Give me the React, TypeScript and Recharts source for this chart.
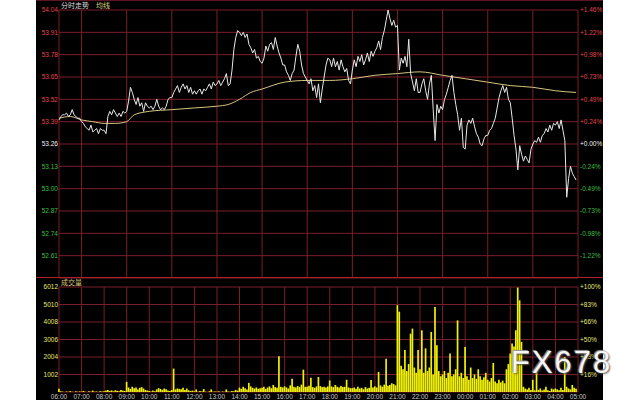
import { ComposedChart, Line, Bar, XAxis, YAxis, CartesianGrid } from "recharts";

// hour labels along the bottom, 06:00 .. 05:00 next day
const timeLabels = [
  "06:00", "07:00", "08:00", "09:00", "10:00", "11:00", "12:00", "13:00",
  "14:00", "15:00", "16:00", "17:00", "18:00", "19:00", "20:00", "21:00",
  "22:00", "23:00", "00:00", "01:00", "02:00", "03:00", "04:00", "05:00",
];

const priceTicks = [54.04, 53.91, 53.78, 53.65, 53.52, 53.39, 53.26, 53.13, 53.0, 52.87, 52.74, 52.61];
const pctLabels = ["+1.46%", "+1.22%", "+0.98%", "+0.73%", "+0.49%", "+0.24%", "+0.00%", "-0.24%", "-0.49%", "-0.73%", "-0.98%", "-1.22%"];
const volTicks = [1002, 2004, 3006, 4008, 5010, 6012];
const volPctLabels = ["+16%", "+33%", "+50%", "+66%", "+83%", "+100%"];

// one price every 5 minutes, one row per hour
const prices = [
  53.40, 53.42, 53.43, 53.43, 53.44, 53.42, 53.43, 53.46, 53.43, 53.42, 53.41, 53.41,
  53.39, 53.38, 53.36, 53.35, 53.34, 53.37, 53.33, 53.34, 53.35, 53.32, 53.35, 53.34,
  53.34, 53.32, 53.42, 53.45, 53.43, 53.46, 53.44, 53.42, 53.44, 53.42, 53.45, 53.44,
  53.45, 53.51, 53.59, 53.56, 53.52, 53.49, 53.53, 53.48, 53.50, 53.45, 53.50, 53.48,
  53.47, 53.48, 53.46, 53.48, 53.52, 53.48, 53.46, 53.47, 53.46, 53.48, 53.52, 53.53,
  53.53, 53.56, 53.58, 53.60, 53.56, 53.59, 53.61, 53.58, 53.60, 53.56, 53.59, 53.55,
  53.57, 53.55, 53.57, 53.58, 53.55, 53.58, 53.57, 53.59, 53.61, 53.58, 53.62, 53.60,
  53.61, 53.63, 53.60, 53.62, 53.64, 53.67, 53.60, 53.61, 53.69, 53.81, 53.88, 53.92,
  53.91, 53.89, 53.91, 53.88, 53.90, 53.84, 53.82, 53.79, 53.81, 53.76, 53.77, 53.74,
  53.73, 53.76, 53.83, 53.80, 53.84, 53.85, 53.81, 53.88, 53.83, 53.79, 53.76, 53.72,
  53.72, 53.68, 53.66, 53.63, 53.67, 53.69, 53.77, 53.84, 53.80, 53.72, 53.67, 53.65,
  53.63, 53.61, 53.64, 53.57, 53.60, 53.53, 53.61, 53.50, 53.58, 53.65, 53.72, 53.76,
  53.75, 53.71, 53.76, 53.71, 53.74, 53.69, 53.75, 53.71, 53.68, 53.70, 53.63, 53.61,
  53.69, 53.75, 53.71, 53.77, 53.74, 53.78, 53.72, 53.75, 53.79, 53.74, 53.80, 53.77,
  53.80, 53.82, 53.86, 53.81, 53.88, 53.92, 53.98, 54.04, 53.99, 53.95, 53.98, 53.94,
  53.95, 53.69, 53.76, 53.73, 53.77, 53.71, 53.87, 53.67, 53.62, 53.57, 53.64, 53.56,
  53.56, 53.61, 53.64, 53.57, 53.52, 53.61, 53.66, 53.46, 53.28, 53.49, 53.44, 53.48,
  53.46, 53.52, 53.55, 53.59, 53.63, 53.66, 53.56, 53.49, 53.43, 53.34, 53.41, 53.24,
  53.23, 53.37, 53.40, 53.38, 53.41, 53.36, 53.32, 53.30, 53.26, 53.25, 53.29, 53.31,
  53.31, 53.34, 53.35, 53.38, 53.41, 53.47, 53.53, 53.57, 53.60, 53.56, 53.59, 53.52,
  53.50, 53.41, 53.31, 53.23, 53.11, 53.25, 53.20, 53.16, 53.19, 53.17, 53.15, 53.23,
  53.26, 53.28, 53.27, 53.30, 53.27, 53.31, 53.32, 53.35, 53.33, 53.37, 53.34, 53.38,
  53.37, 53.39, 53.35, 53.40, 53.34, 53.28, 52.95, 53.06, 53.13, 53.09, 53.07, 53.05,
];

// average line, read at a few slots only (slot = 5 min)
const avgSlots = [0, 6, 12, 18, 24, 30, 36, 40, 48, 60, 72, 84, 90, 96, 102, 108, 120, 132, 144, 156, 168, 180, 192, 204, 216, 228, 240, 252, 264, 275];
const avgValues = [53.41, 53.42, 53.40, 53.39, 53.38, 53.38, 53.39, 53.43, 53.45, 53.46, 53.47, 53.48, 53.49, 53.52, 53.56, 53.58, 53.62, 53.63, 53.63, 53.64, 53.66, 53.67, 53.68, 53.66, 53.64, 53.62, 53.60, 53.59, 53.57, 53.56];

const volumes = [
  190, 40, 20, 0, 30, 10, 50, 20, 0, 40, 10, 30,
  20, 60, 10, 0, 40, 20, 80, 10, 30, 0, 50, 20,
  40, 80, 120, 60, 90, 40, 100, 70, 50, 120, 80, 60,
  580, 260, 180, 300, 220, 260, 150, 240, 280, 200, 120, 90,
  60, 30, 80, 40, 150, 220, 180, 120, 200, 160, 90, 60,
  120, 1340, 150, 200, 180, 160, 240, 120, 200, 100, 60, 80,
  40, 150, 20, 60, 30, 170, 20, 0, 40, 150, 10, 30,
  20, 40, 0, 30, 10, 150, 30, 20, 60, 40, 120, 80,
  250, 180, 300, 220, 150, 520, 320, 240, 200, 260, 180, 220,
  240, 300, 180, 260, 320, 220, 400, 280, 240, 2050, 300, 260,
  320, 260, 200, 380, 760, 300, 260, 340, 280, 420, 1280, 300,
  300, 360, 820, 280, 240, 320, 860, 340, 280, 300, 260, 320,
  660, 320, 280, 400, 300, 260, 340, 280, 300, 700, 260, 220,
  220, 260, 180, 300, 200, 240, 160, 280, 200, 240, 680, 260,
  320, 260, 1150, 380, 300, 420, 1900, 360, 400, 500, 460, 380,
  4970, 4600, 1500, 1300, 2400, 1200, 1600, 3340, 3630, 1400, 1100, 2400,
  1300, 3530, 1100, 2500, 1200, 1400, 3440, 1000, 4870, 2670, 1200, 900,
  1000, 1200, 800, 1100, 2200, 900, 1000, 1300, 4100, 900, 1100, 800,
  2580, 900, 700, 1400, 800, 1000, 750, 1300, 900, 700, 850, 1100,
  700, 600, 800, 1660, 600, 500, 700, 550, 650, 500, 1300, 1600,
  2200, 2770, 2600, 3530, 5980, 5250, 2870, 300, 200, 150, 250, 120,
  700, 100, 1400, 120, 200, 80, 150, 300, 100, 60, 200, 150,
  200, 150, 100, 250, 120, 2000, 300, 200, 150, 400, 250, 180,
];

const STEP = 5;
const BASE = 53.26;
const FONT = "'Liberation Sans', Arial, sans-serif";
const GRID = "#7a1e2a";
const RED = "#e0454f";
const GREEN = "#3fbf3f";
const VOL_TXT = "#e6e673";

const hourTicks = timeLabels.map((_, i) => i * 60);
const avgBySlot = new Map(avgSlots.map((s, i) => [s, avgValues[i]]));
const data = prices.map((p, i) => ({
  minute: i * STEP,
  price: p,
  avg: avgBySlot.get(i) ?? null,
  vol: volumes[i],
}));

function PriceTick(props: any) {
  const { x, y, payload, textAnchor, right } = props;
  const v = payload.value;
  const fill = v > BASE + 0.001 ? RED : v < BASE - 0.001 ? GREEN : "#f0f0f0";
  const label = right ? pctLabels[priceTicks.indexOf(v)] : v.toFixed(2);
  return (
    <text x={x} y={y} dy="0.35em" textAnchor={textAnchor} fill={fill} fontSize={6.5} fontFamily={FONT}>
      {label}
    </text>
  );
}

function VolTick(props: any) {
  const { x, y, payload, textAnchor, right } = props;
  const label = right ? volPctLabels[volTicks.indexOf(payload.value)] : String(payload.value);
  return (
    <text x={x} y={y} dy="0.35em" textAnchor={textAnchor} fill={VOL_TXT} fontSize={6.5} fontFamily={FONT}>
      {label}
    </text>
  );
}

export default function App() {
  return (
    <div style={{ position: "relative", width: 640, height: 400, background: "#fff", overflow: "hidden" }}>
      <style>{"body{margin:0}"}</style>
      <div style={{ position: "absolute", left: 36, top: 0, width: 567, height: 400, background: "#000", borderTop: "1px solid #5a1520", boxSizing: "border-box" }} />

      <div style={{ position: "absolute", left: 36, top: 0 }}>
        <ComposedChart width={577} height={280} data={data} margin={{ top: 10, right: 10, bottom: 2, left: 0 }}>
          <CartesianGrid stroke={GRID} />
          <XAxis dataKey="minute" type="number" domain={[0, 1380]} ticks={hourTicks} hide />
          <YAxis
            domain={[52.48, 54.04]}
            ticks={priceTicks}
            interval={0}
            width={23}
            tickLine={false}
            tickSize={0}
            axisLine={false}
            tickMargin={1}
            tick={(p: any) => <PriceTick {...p} />}
          />
          <YAxis
            yAxisId="r"
            orientation="right"
            domain={[52.48, 54.04]}
            ticks={priceTicks}
            interval={0}
            width={25}
            tickLine={false}
            tickSize={0}
            axisLine={false}
            tickMargin={2}
            tick={(p: any) => <PriceTick {...p} right />}
          />
          <Line dataKey="avg" type="monotone" connectNulls stroke="#d6c57e" strokeWidth={1} dot={false} isAnimationActive={false} />
          <Line yAxisId="r" dataKey="price" type="linear" stroke="#e8e8e8" strokeWidth={1} dot={false} isAnimationActive={false} />
        </ComposedChart>
      </div>

      <div style={{ position: "absolute", left: 36, top: 277, width: 567, height: 1, background: "#b0202c" }} />

      <div style={{ position: "absolute", left: 36, top: 277 }}>
        <ComposedChart width={577} height={123} data={data} margin={{ top: 10, right: 10, bottom: 0, left: 0 }}>
          <CartesianGrid stroke={GRID} />
          <XAxis
            dataKey="minute"
            type="number"
            domain={[0, 1380]}
            ticks={hourTicks}
            interval={0}
            height={8}
            tickLine={false}
            tickSize={0}
            axisLine={false}
            tickMargin={2}
            tick={{ fill: "#c8c8c8", fontSize: 6.5, fontFamily: FONT }}
            tickFormatter={(v: number) => timeLabels[v / 60]}
          />
          <YAxis
            domain={[0, 6012]}
            ticks={volTicks}
            interval={0}
            width={23}
            tickLine={false}
            tickSize={0}
            axisLine={false}
            tickMargin={1}
            tick={(p: any) => <VolTick {...p} />}
          />
          <YAxis
            yAxisId="r"
            orientation="right"
            domain={[0, 6012]}
            ticks={volTicks}
            interval={0}
            width={25}
            tickLine={false}
            tickSize={0}
            axisLine={false}
            tickMargin={2}
            tick={(p: any) => <VolTick {...p} right />}
          />
          <Bar dataKey="vol" fill="#f2f200" barSize={2} isAnimationActive={false} />
          <Line yAxisId="r" dataKey="vol" stroke="none" dot={false} activeDot={false} isAnimationActive={false} />
        </ComposedChart>
      </div>

      <div style={{ position: "absolute", left: 61, top: 0, fontSize: 7, lineHeight: "10px", fontFamily: "'Noto Sans CJK SC', sans-serif", whiteSpace: "nowrap" }}>
        <span style={{ color: "#d8d8d8" }}>分时走势</span>
        <span style={{ color: "#d8cf7a", marginLeft: 7 }}>均线</span>
      </div>
      <div style={{ position: "absolute", left: 61, top: 278, fontSize: 7, lineHeight: "9px", color: "#d8c87a", fontFamily: "'Noto Sans CJK SC', sans-serif" }}>
        成交量
      </div>

      <div
        style={{
          position: "absolute",
          left: 511,
          top: 343,
          fontSize: 31,
          lineHeight: "40px",
          letterSpacing: 2,
          color: "#f6f6f6",
          fontFamily: FONT,
          textShadow: "1px 1px 2px #555, -1px -1px 1px #999",
        }}
      >
        FX678
      </div>
    </div>
  );
}
